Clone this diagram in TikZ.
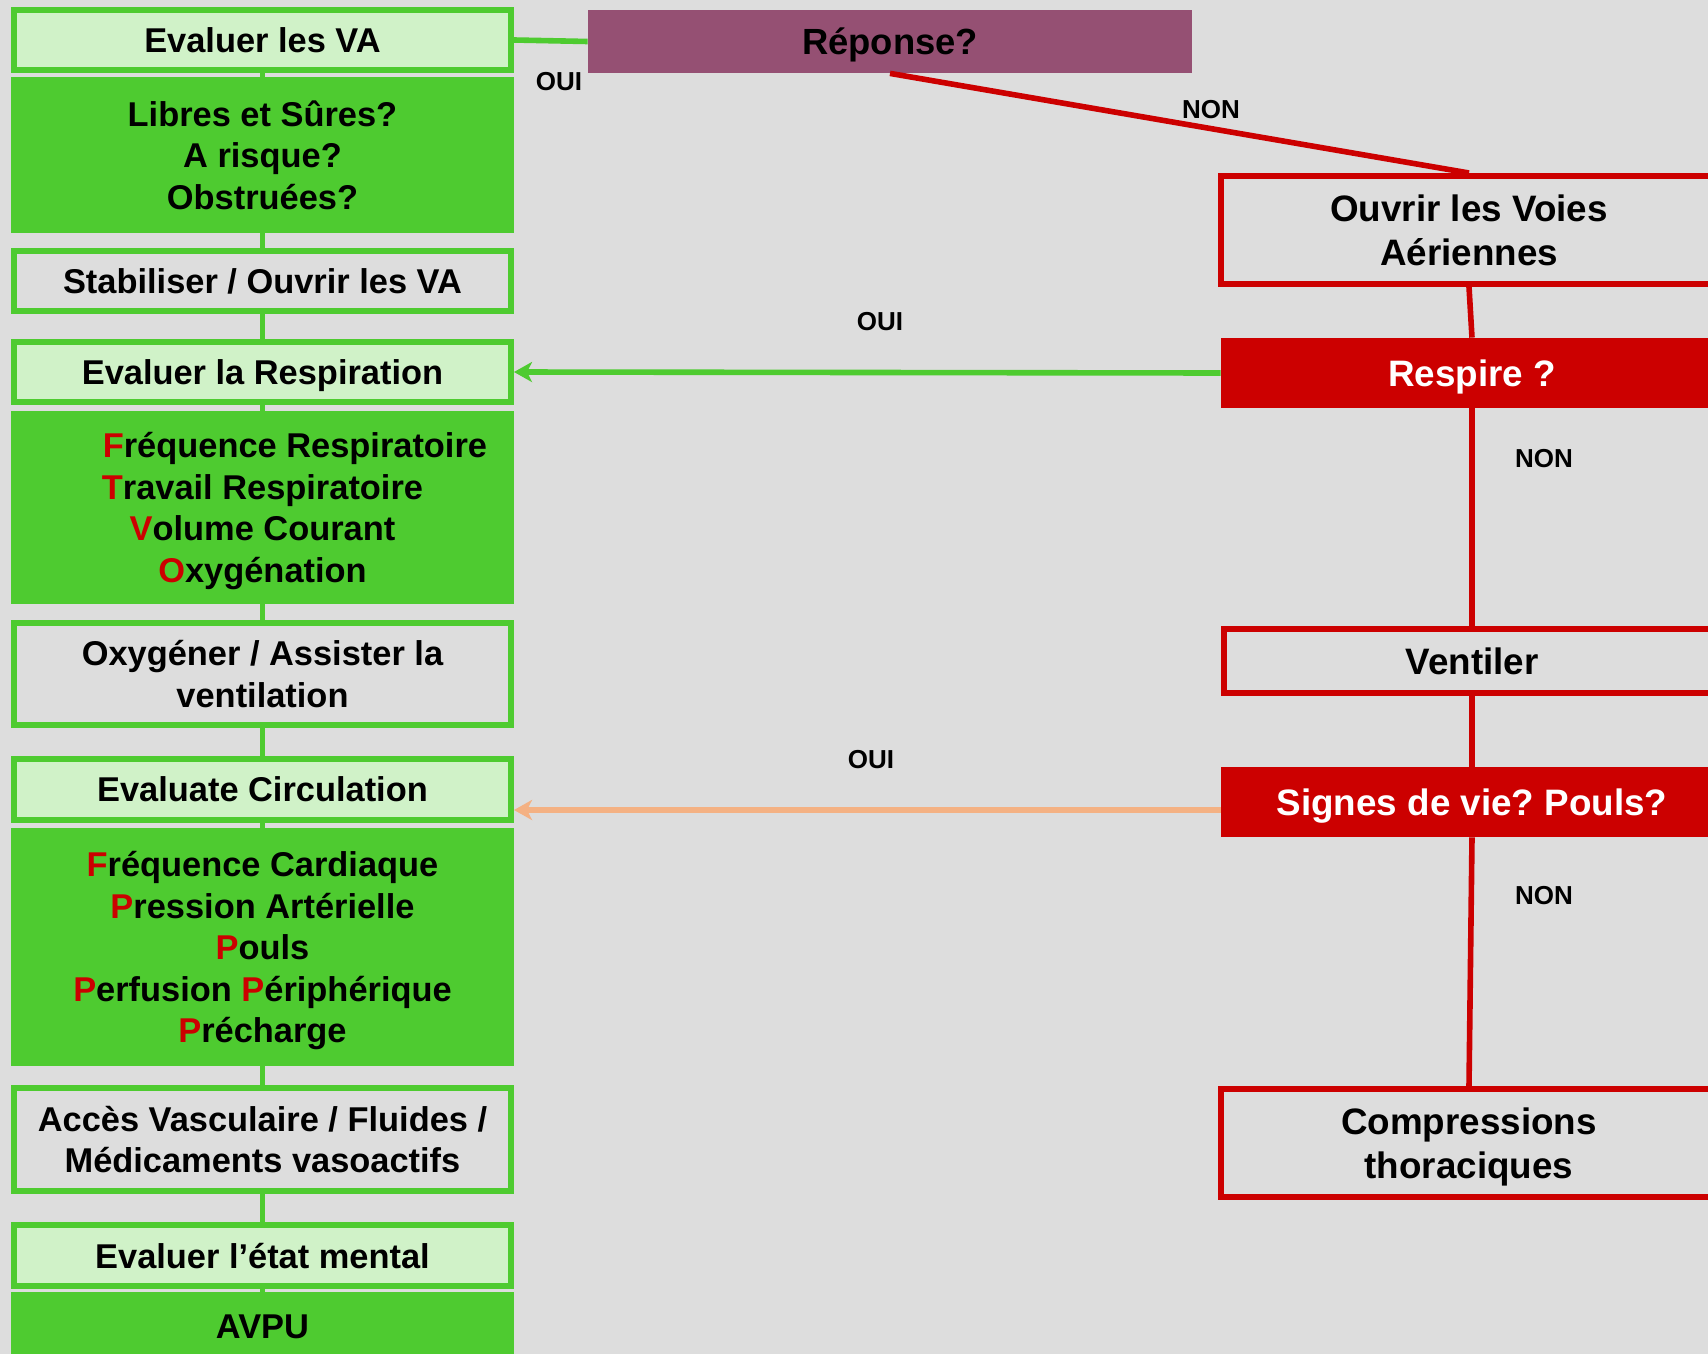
\documentclass[tikz,border=0pt]{standalone}
\usepackage{fontspec}
\setmainfont{Liberation Sans}
\usepackage{calc}
\usetikzlibrary{arrows.meta}
\definecolor{bgc}{HTML}{DDDDDD}
\definecolor{vgreen}{HTML}{4ECB30}
\definecolor{lgreen}{HTML}{D0F2C8}
\definecolor{vred}{HTML}{CC0000}
\definecolor{plum}{HTML}{955073}
\definecolor{peach}{HTML}{F4B183}
\newcommand\redl[1]{\textcolor{vred}{#1}}
\frenchspacing

\tikzset{
  box/.style={rectangle, align=center, inner sep=0pt, text=black, text depth=0pt,
    font=\bfseries\fontsize{17.2}{20.8}\selectfont},
  lbox/.style={box, fill=lgreen, draw=vgreen, line width=3pt, minimum width=248.5pt},
  sbox/.style={box, fill=vgreen, minimum width=251.5pt},
  gbox/.style={box, fill=bgc, draw=vgreen, line width=3pt, minimum width=248.5pt},
  rbox/.style={box, font=\bfseries\fontsize{18.4}{21.8}\selectfont,
    fill=bgc, draw=vred, line width=3pt, minimum width=248pt},
  qbox/.style={box, font=\bfseries\fontsize{18.4}{21.8}\selectfont,
    fill=vred, text=white, minimum width=251pt, minimum height=35pt},
  lbl/.style={font=\bfseries\fontsize{13}{15}\selectfont},
  gline/.style={draw=vgreen, line width=2.8pt},
  rline/.style={draw=vred, line width=2.8pt},
}

\begin{document}
\begin{tikzpicture}[x=0.5pt, y=-0.5pt]
  \useasboundingbox (0,0) rectangle (1708,1354);
  \clip (0,0) rectangle (1708,1354);
  \fill[bgc] (0,0) rectangle (1708,1354);

  % ABC column
  \node[lbox, minimum height=30pt] (b1) at (262.5,40) {Evaluer les VA};
  \node[sbox, minimum height=78pt] (b2) at (262.5,155)
    {Libres et Sûres?\\A risque?\\Obstruées?};
  \node[gbox, minimum height=30pt] (b3) at (262.5,281) {Stabiliser / Ouvrir les VA};
  \node[lbox, minimum height=30pt] (b4) at (262.5,372) {Evaluer la Respiration};
  \node[sbox, minimum height=96.5pt] (b5) at (262.5,507.5)
    {\makebox[\widthof{Travail Respiratoire}][l]{\redl{F}réquence Respiratoire}\\
     \redl{T}ravail Respiratoire\\\redl{V}olume Courant\\\redl{O}xygénation};
  \node[gbox, minimum height=51pt] (b6) at (262.5,674)
    {Oxygéner / Assister la\\ventilation};
  \node[lbox, minimum height=30.5pt] (b7) at (262.5,789.5) {Evaluate Circulation};
  \node[sbox, minimum height=119pt] (b8) at (262.5,947)
    {\redl{F}réquence Cardiaque\\\redl{P}ression Artérielle\\\redl{P}ouls\\
     \redl{P}erfusion \redl{P}ériphérique\\\redl{P}récharge};
  \node[gbox, minimum height=51.5pt] (b9) at (262.5,1139.5)
    {Accès Vasculaire / Fluides /\\Médicaments vasoactifs};
  \node[lbox, minimum height=30.5pt] (b10) at (262.5,1255.5) {Evaluer l’état mental};
  \node[sbox, minimum height=35pt] (b11) at (262.5,1327) {AVPU};
  \foreach \i [count=\j from 2] in {1,...,10}
    \draw[gline] (b\i.south) -- (b\j.north);

  % resuscitation branch
  \node[box, font=\bfseries\fontsize{18.2}{21}\selectfont, fill=plum,
    minimum width=302pt, minimum height=31.5pt] (rep) at (890,41.5) {Réponse?};
  \node[rbox, minimum height=54pt] (ouvrir) at (1469,230) {Ouvrir les Voies\\Aériennes};
  \node[qbox] (respire) at (1472,373) {Respire ?};
  \node[rbox, minimum height=32pt] (ventiler) at (1472,661) {Ventiler};
  \node[qbox] (signes) at (1472,802) {Signes de vie? Pouls?};
  \node[rbox, minimum height=54pt] (compr) at (1469,1143) {Compressions\\thoraciques};

  \draw[gline] (b1.east) -- (rep.west);
  \draw[rline] (rep.south) -- (ouvrir.north);
  \draw[rline] (ouvrir.south) -- (respire.north);
  \draw[rline] (respire.south) -- (ventiler.north);
  \draw[rline] (ventiler.south) -- (signes.north);
  \draw[rline] (signes.south) -- (compr.north);
  \draw[gline, -{Stealth[length=9pt, width=10pt, inset=2.5pt]}]
    (respire.west) -- (b4.east);
  \draw[draw=peach, line width=2.6pt, -{Stealth[length=9pt, width=10pt, inset=2.5pt]}]
    ([yshift=-4pt]signes.west) -- ([yshift=-4pt]signes.west -| b7.east);

  % answers
  \foreach \x/\y/\t [count=\k] in {559/82/OUI, 1211/110/NON, 880/322/OUI,
      1544/459/NON, 871/760/OUI, 1544/896/NON}
    \node[lbl] (lbl\k) at (\x,\y) {\t};
\end{tikzpicture}
\end{document}
